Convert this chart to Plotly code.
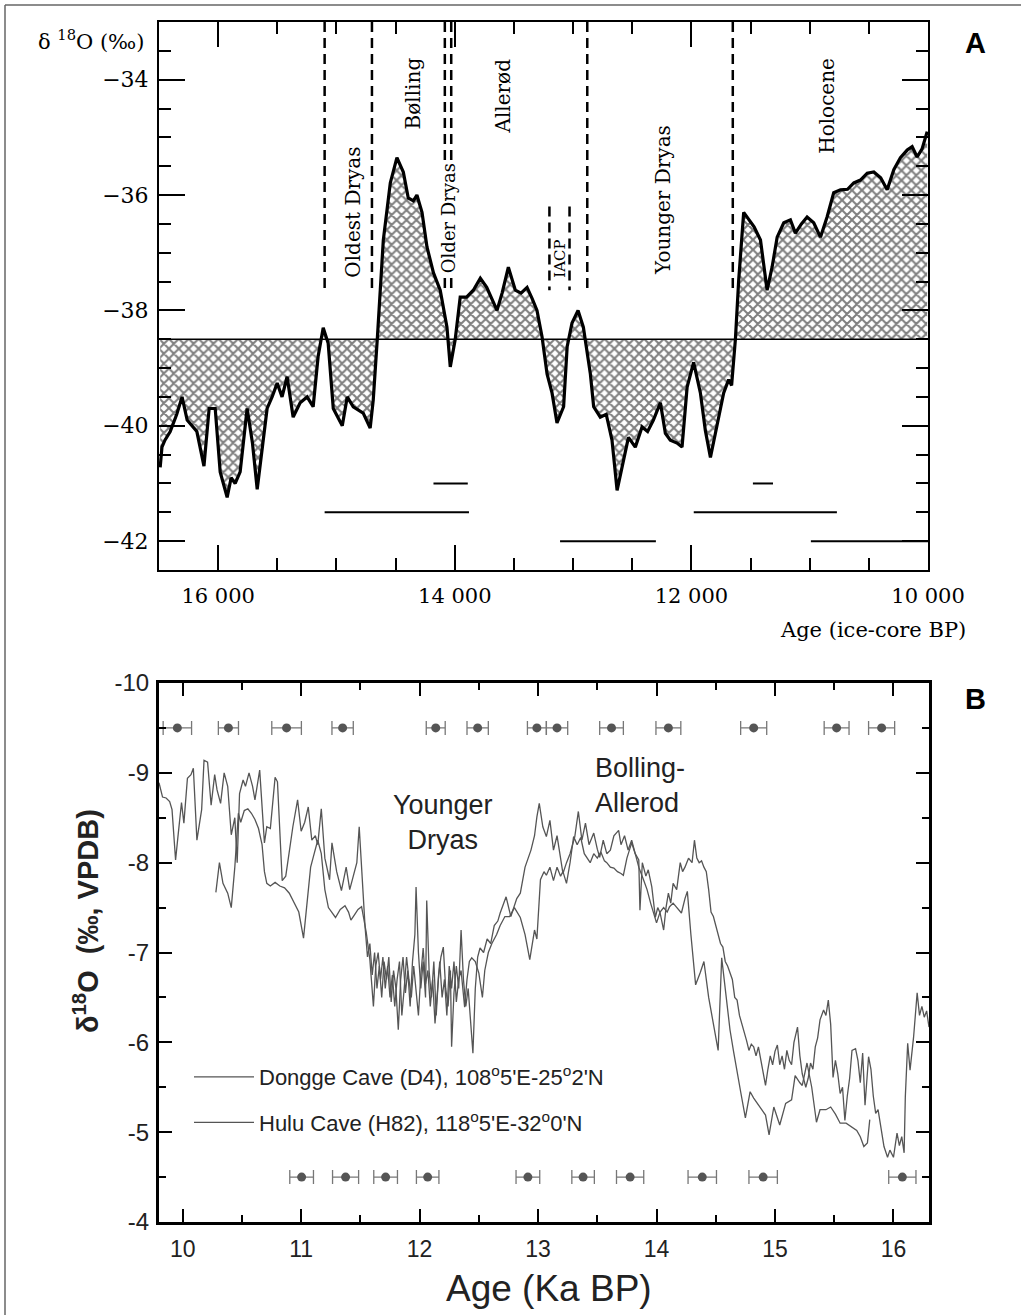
import plotly.graph_objects as go

# ---------------- Panel A : ice-core delta18O ----------------
ICE_CORE = [
    (16490, -40.72), (16475, -40.37), (16450, -40.25), (16405, -40.10), (16350, -39.80),
    (16305, -39.50), (16262, -39.90), (16220, -40.00), (16180, -40.10), (16120, -40.70),
    (16076, -39.70), (16025, -39.70), (15983, -40.80), (15924, -41.24), (15890, -40.90),
    (15856, -41.00), (15814, -40.80), (15755, -39.70), (15710, -40.30), (15670, -41.10),
    (15620, -40.30), (15586, -39.70), (15544, -39.50), (15501, -39.26), (15460, -39.50),
    (15417, -39.15), (15366, -39.85), (15307, -39.60), (15248, -39.50), (15197, -39.67),
    (15155, -38.80), (15112, -38.30), (15070, -38.57), (15027, -39.70), (14951, -40.00),
    (14909, -39.50), (14858, -39.67), (14774, -39.78), (14715, -40.04), (14689, -39.55),
    (14655, -38.50), (14630, -37.60), (14604, -36.78), (14545, -35.79), (14489, -35.35),
    (14435, -35.60), (14393, -36.05), (14350, -36.10), (14320, -36.00), (14277, -36.30),
    (14235, -36.90), (14180, -37.35), (14123, -37.65), (14066, -38.29), (14038, -38.98),
    (13996, -38.50), (13954, -37.77), (13900, -37.77), (13843, -37.65), (13784, -37.44),
    (13730, -37.60), (13643, -38.00), (13600, -37.70), (13547, -37.25), (13488, -37.65),
    (13440, -37.70), (13389, -37.60), (13345, -37.80), (13305, -38.00), (13262, -38.46),
    (13220, -39.10), (13178, -39.43), (13136, -39.95), (13080, -39.67), (13050, -38.63),
    (13009, -38.22), (12958, -38.00), (12913, -38.29), (12854, -39.10), (12826, -39.67),
    (12770, -39.85), (12720, -39.80), (12671, -40.25), (12628, -41.12), (12586, -40.70),
    (12532, -40.20), (12474, -40.37), (12417, -40.02), (12370, -40.10), (12321, -39.90),
    (12262, -39.60), (12220, -40.13), (12178, -40.25), (12121, -40.30), (12079, -40.37),
    (12036, -39.33), (11981, -38.90), (11924, -39.43), (11882, -40.08), (11839, -40.55),
    (11797, -40.13), (11755, -39.73), (11727, -39.43), (11685, -39.20), (11660, -39.30),
    (11628, -38.50), (11600, -37.47), (11558, -36.30), (11515, -36.43), (11470, -36.55),
    (11416, -36.78), (11360, -37.65), (11318, -37.25), (11275, -36.73), (11219, -36.48),
    (11163, -36.43), (11121, -36.66), (11070, -36.50), (11022, -36.38), (10966, -36.48),
    (10909, -36.73), (10853, -36.38), (10797, -35.96), (10740, -35.91), (10680, -35.90),
    (10627, -35.79), (10571, -35.74), (10514, -35.62), (10458, -35.60), (10400, -35.70),
    (10345, -35.91), (10289, -35.56), (10233, -35.35), (10176, -35.22), (10134, -35.16),
    (10092, -35.34), (10050, -35.20), (10007, -34.90),
]
ICE_AGE = [p[0] for p in ICE_CORE]
ICE_D18O = [p[1] for p in ICE_CORE]
ICE_MEAN = -38.5

PERIOD_BOUNDARIES = [15100, 14700, 14084, 14030, 12880, 11650]
BOUNDARY_SPAN = (-33.0, -37.7)
IACP_BOUNDARIES = [13200, 13030]
IACP_SPAN = (-36.2, -37.65)

AGE_ERR_START = [14180, 15100, 11480, 11980, 13110, 10990]
AGE_ERR_END = [13890, 13880, 11310, 10770, 12300, 10000]
AGE_ERR_LEVEL = [-41.0, -41.5, -41.0, -41.5, -42.0, -42.0]

# ---------------- Panel B : speleothem delta18O ----------------
DONGGE = [
    (9.80, -8.89), (9.83, -8.73), (9.86, -8.72), (9.89, -8.68), (9.91, -8.59), (9.94, -8.03),
    (9.96, -8.29), (9.99, -8.67), (10.01, -8.44), (10.04, -8.94), (10.07, -8.98), (10.09, -9.05),
    (10.12, -8.25), (10.14, -8.45), (10.16, -8.59), (10.18, -9.14), (10.21, -9.12), (10.24, -8.64),
    (10.27, -8.98), (10.29, -8.81), (10.32, -8.66), (10.35, -9.00), (10.38, -8.85), (10.41, -8.31),
    (10.44, -8.50), (10.46, -8.00), (10.48, -8.77), (10.51, -8.92), (10.53, -8.85), (10.56, -9.00),
    (10.59, -8.85), (10.61, -8.70), (10.65, -9.03), (10.69, -8.22), (10.71, -8.40), (10.74, -8.38),
    (10.78, -8.95), (10.80, -8.90), (10.84, -7.80), (10.87, -7.85), (10.90, -8.15), (10.93, -8.40),
    (10.97, -8.70), (11.00, -8.35), (11.03, -8.45), (11.06, -8.62), (11.09, -8.25), (11.12, -8.30),
    (11.14, -8.20), (11.17, -8.60), (11.20, -8.05), (11.24, -7.81), (11.26, -8.22), (11.30, -7.90),
    (11.34, -7.69), (11.38, -7.95), (11.41, -7.70), (11.44, -7.85), (11.47, -8.00), (11.49, -8.40),
    (11.52, -7.66), (11.54, -7.28), (11.56, -6.95), (11.58, -7.10), (11.60, -6.75), (11.62, -7.00),
    (11.64, -6.60), (11.66, -6.85), (11.68, -6.50), (11.70, -6.90), (11.72, -6.70), (11.74, -6.95),
    (11.76, -6.45), (11.78, -6.80), (11.80, -6.60), (11.82, -6.14), (11.84, -6.70), (11.86, -6.95),
    (11.88, -6.55), (11.90, -6.80), (11.92, -6.40), (11.94, -6.90), (11.96, -7.20), (11.97, -7.73),
    (11.99, -7.00), (12.01, -6.60), (12.03, -6.90), (12.05, -6.50), (12.06, -7.58), (12.08, -6.80),
    (12.10, -6.50), (12.12, -6.90), (12.14, -6.30), (12.16, -6.75), (12.18, -6.95), (12.20, -7.06),
    (12.22, -6.60), (12.24, -6.40), (12.26, -6.80), (12.27, -5.95), (12.29, -6.55), (12.31, -6.85),
    (12.33, -6.60), (12.35, -7.25), (12.37, -6.70), (12.39, -6.40), (12.41, -6.60), (12.43, -6.20),
    (12.45, -5.88), (12.47, -6.60), (12.49, -6.95), (12.51, -7.05), (12.54, -7.00), (12.57, -7.15),
    (12.60, -7.10), (12.63, -7.30), (12.66, -7.35), (12.68, -7.44), (12.73, -7.62), (12.77, -7.40),
    (12.82, -7.60), (12.85, -7.66), (12.89, -7.95), (12.94, -8.14), (12.97, -8.30), (12.99, -8.51),
    (13.01, -8.66), (13.04, -8.40), (13.07, -8.29), (13.10, -8.47), (13.13, -8.14), (13.16, -8.30),
    (13.19, -8.05), (13.21, -7.88), (13.24, -8.00), (13.27, -8.10), (13.31, -8.29), (13.34, -8.57),
    (13.37, -8.25), (13.40, -8.44), (13.43, -8.20), (13.47, -8.33), (13.50, -8.15), (13.52, -8.06),
    (13.55, -8.25), (13.58, -8.10), (13.61, -8.14), (13.64, -8.30), (13.68, -8.36), (13.70, -8.20),
    (13.73, -8.30), (13.76, -8.14), (13.79, -8.25), (13.82, -8.10), (13.85, -8.03), (13.86, -7.47),
    (13.88, -8.00), (13.91, -7.85), (13.93, -7.92), (13.96, -7.73), (13.99, -7.39), (14.01, -7.50),
    (14.03, -7.44), (14.06, -7.25), (14.08, -7.50), (14.10, -7.66), (14.12, -7.55), (14.14, -7.77),
    (14.17, -7.70), (14.20, -8.00), (14.22, -7.90), (14.24, -7.95), (14.27, -8.05), (14.30, -8.00),
    (14.32, -8.25), (14.34, -8.05), (14.36, -8.00), (14.38, -8.02), (14.40, -7.95), (14.42, -7.90),
    (14.44, -7.70), (14.46, -7.45), (14.48, -7.40), (14.50, -7.30), (14.52, -7.20), (14.54, -7.10),
    (14.56, -7.06), (14.58, -6.90), (14.60, -6.85), (14.62, -6.77), (14.64, -6.70), (14.66, -6.50),
    (14.68, -6.47), (14.70, -6.30), (14.72, -6.21), (14.74, -6.10), (14.76, -6.02), (14.78, -5.91),
    (14.80, -5.98), (14.82, -5.95), (14.84, -5.85), (14.86, -5.95), (14.88, -5.80), (14.90, -5.66),
    (14.92, -5.52), (14.94, -5.70), (14.96, -5.85), (14.98, -5.75), (15.00, -5.90), (15.02, -5.97),
    (15.04, -5.75), (15.06, -5.85), (15.08, -5.70), (15.10, -5.91), (15.12, -5.80), (15.14, -5.75),
    (15.16, -6.00), (15.19, -6.17), (15.21, -5.85), (15.23, -5.65), (15.26, -5.50), (15.28, -5.60),
    (15.30, -5.77), (15.32, -5.70), (15.34, -5.95), (15.36, -6.05), (15.38, -6.25), (15.41, -6.36),
    (15.43, -6.30), (15.45, -6.47), (15.47, -6.20), (15.49, -5.61), (15.51, -5.80), (15.53, -5.65),
    (15.55, -5.43), (15.57, -5.50), (15.59, -5.13), (15.61, -5.40), (15.63, -5.60), (15.65, -5.91),
    (15.68, -5.93), (15.70, -5.80), (15.72, -5.55), (15.74, -5.88), (15.76, -5.30), (15.79, -5.84),
    (15.81, -5.70), (15.83, -5.40), (15.85, -5.21), (15.87, -5.25), (15.89, -5.10), (15.92, -4.84),
    (15.95, -4.72), (15.97, -4.80), (16.00, -4.72), (16.03, -4.99), (16.05, -4.85), (16.07, -4.95),
    (16.09, -4.77), (16.10, -5.39), (16.12, -5.99), (16.14, -5.69), (16.17, -6.06), (16.20, -6.55),
    (16.22, -6.30), (16.24, -6.40), (16.26, -6.28), (16.28, -6.35), (16.30, -6.17),
]
HULU = [
    (10.28, -7.67), (10.31, -8.00), (10.34, -7.77), (10.38, -7.66), (10.41, -7.50), (10.44, -7.95),
    (10.47, -8.55), (10.49, -8.45), (10.52, -8.58), (10.55, -8.60), (10.58, -8.55), (10.61, -8.48),
    (10.64, -8.38), (10.67, -8.20), (10.69, -7.90), (10.71, -7.77), (10.74, -7.74), (10.78, -7.78),
    (10.82, -7.74), (10.86, -7.72), (10.90, -7.66), (10.94, -7.55), (10.98, -7.45), (11.02, -7.16),
    (11.05, -7.60), (11.08, -7.95), (11.11, -8.10), (11.14, -8.25), (11.17, -8.10), (11.20, -7.70),
    (11.23, -7.50), (11.26, -7.45), (11.29, -7.39), (11.33, -7.48), (11.37, -7.52), (11.40, -7.45),
    (11.42, -7.36), (11.45, -7.42), (11.48, -7.48), (11.51, -7.51), (11.55, -7.22), (11.58, -6.92),
    (11.61, -6.40), (11.63, -6.85), (11.65, -7.00), (11.67, -6.70), (11.69, -6.95), (11.71, -6.60),
    (11.73, -6.85), (11.75, -6.50), (11.77, -6.75), (11.79, -6.40), (11.81, -6.70), (11.83, -6.90),
    (11.85, -6.30), (11.87, -6.60), (11.89, -6.95), (11.91, -6.70), (11.93, -6.50), (11.95, -6.85),
    (11.97, -6.60), (11.99, -6.30), (12.01, -6.75), (12.03, -7.05), (12.05, -6.65), (12.07, -6.80),
    (12.09, -6.40), (12.11, -6.70), (12.13, -6.21), (12.15, -6.60), (12.17, -6.90), (12.19, -6.50),
    (12.21, -6.70), (12.23, -6.30), (12.25, -6.85), (12.27, -6.60), (12.29, -6.90), (12.31, -6.45),
    (12.33, -6.70), (12.35, -6.80), (12.38, -6.39), (12.40, -6.70), (12.42, -6.90), (12.44, -6.94),
    (12.47, -6.90), (12.50, -6.77), (12.53, -6.50), (12.55, -6.80), (12.58, -7.00), (12.61, -7.10),
    (12.65, -7.20), (12.68, -7.30), (12.72, -7.40), (12.76, -7.40), (12.80, -7.50), (12.85, -7.39),
    (12.89, -7.20), (12.93, -6.92), (12.97, -7.25), (12.99, -7.15), (13.02, -7.81), (13.05, -7.90),
    (13.07, -7.86), (13.10, -7.95), (13.13, -7.80), (13.16, -7.95), (13.19, -7.85), (13.21, -7.90),
    (13.24, -7.77), (13.27, -8.00), (13.30, -8.29), (13.33, -8.20), (13.36, -8.28), (13.39, -8.10),
    (13.41, -8.06), (13.44, -8.00), (13.47, -8.10), (13.50, -8.05), (13.53, -8.12), (13.56, -8.02),
    (13.58, -8.00), (13.61, -7.95), (13.64, -7.94), (13.67, -7.90), (13.70, -7.88), (13.72, -7.86),
    (13.75, -8.05), (13.77, -8.15), (13.79, -8.22), (13.82, -8.10), (13.85, -7.95), (13.89, -7.81),
    (13.92, -7.70), (13.95, -7.55), (13.98, -7.40), (14.00, -7.33), (14.03, -7.45), (14.06, -7.50),
    (14.09, -7.45), (14.11, -7.51), (14.14, -7.55), (14.17, -7.50), (14.21, -7.44), (14.24, -7.60),
    (14.26, -7.68), (14.29, -7.20), (14.33, -6.64), (14.37, -6.78), (14.40, -6.90), (14.44, -6.50),
    (14.48, -6.20), (14.52, -5.91), (14.55, -6.94), (14.58, -6.60), (14.60, -6.35), (14.62, -6.14),
    (14.65, -5.90), (14.68, -5.66), (14.71, -5.45), (14.75, -5.16), (14.79, -5.45), (14.82, -5.38),
    (14.86, -5.30), (14.92, -5.19), (14.95, -4.97), (14.99, -5.28), (15.04, -5.08), (15.09, -5.32),
    (15.14, -5.36), (15.17, -5.63), (15.21, -5.55), (15.23, -5.52), (15.27, -5.77), (15.31, -5.50),
    (15.35, -5.11), (15.38, -5.25), (15.43, -5.25), (15.47, -5.28), (15.51, -5.20), (15.55, -5.10),
    (15.60, -5.10), (15.65, -5.06), (15.69, -5.02), (15.72, -4.95), (15.75, -4.84), (15.78, -4.88),
    (15.80, -5.14),
]
DONGGE_AGE = [p[0] for p in DONGGE]
DONGGE_D18O = [p[1] for p in DONGGE]
HULU_AGE = [p[0] for p in HULU]
HULU_D18O = [p[1] for p in HULU]

# U/Th dates (ka) with 2-sigma errors
DATES_TOP = [9.955, 10.386, 10.877, 11.35, 12.136, 12.49, 12.99, 13.16, 13.62, 14.10, 14.82, 15.52, 15.90]
DATES_TOP_ERR = [0.12, 0.085, 0.125, 0.09, 0.08, 0.09, 0.08, 0.09, 0.10, 0.105, 0.11, 0.105, 0.11]
DATES_BOTTOM = [11.004, 11.375, 11.713, 12.068, 12.914, 13.38, 13.777, 14.386, 14.90, 16.075]
DATES_BOTTOM_ERR = [0.10, 0.11, 0.10, 0.095, 0.10, 0.095, 0.115, 0.12, 0.12, 0.115]
DATE_ROW_TOP = -9.5
DATE_ROW_BOTTOM = -4.5

# ---------------- figure ----------------
W, H = 1021, 1315
def px_x(p):
    return p / W
def px_y(p):
    return 1 - p / H

SERIF = "DejaVu Serif"
SANS = "Liberation Sans"
GREY = "#555555"

fig = go.Figure()

# Panel A: mean baseline then the curve filled to it
fig.add_trace(go.Scatter(x=[ICE_AGE[0], ICE_AGE[-1]], y=[ICE_MEAN, ICE_MEAN], mode="lines",
                         line=dict(color="black", width=1.5), xaxis="x", yaxis="y",
                         showlegend=False, hoverinfo="skip"))
fig.add_trace(go.Scatter(x=ICE_AGE, y=ICE_D18O, mode="lines", fill="tonexty",
                         fillpattern=dict(shape="x", size=7, solidity=0.5, fgcolor="black", bgcolor="white"),
                         fillcolor="white",
                         line=dict(color="black", width=3.2), xaxis="x", yaxis="y",
                         showlegend=False, hoverinfo="skip"))

# dashed period boundaries
bx, by = [], []
for a in PERIOD_BOUNDARIES:
    bx += [a, a, None]
    by += [BOUNDARY_SPAN[0], BOUNDARY_SPAN[1], None]
for a in IACP_BOUNDARIES:
    bx += [a, a, None]
    by += [IACP_SPAN[0], IACP_SPAN[1], None]
fig.add_trace(go.Scatter(x=bx, y=by, mode="lines", line=dict(color="black", width=2.5, dash="10px,6px"),
                         xaxis="x", yaxis="y", showlegend=False, hoverinfo="skip"))

# age uncertainty bars
ex, ey = [], []
for s, e, lv in zip(AGE_ERR_START, AGE_ERR_END, AGE_ERR_LEVEL):
    ex += [s, e, None]
    ey += [lv, lv, None]
fig.add_trace(go.Scatter(x=ex, y=ey, mode="lines", line=dict(color="black", width=2),
                         xaxis="x", yaxis="y", showlegend=False, hoverinfo="skip"))

# Panel B curves
fig.add_trace(go.Scatter(x=DONGGE_AGE, y=DONGGE_D18O, mode="lines", name="Dongge Cave (D4), 108<sup>o</sup>5'E-25<sup>o</sup>2'N",
                         line=dict(color=GREY, width=1.3), xaxis="x2", yaxis="y2", legendgroup="d"))
fig.add_trace(go.Scatter(x=HULU_AGE, y=HULU_D18O, mode="lines", name="Hulu Cave (H82), 118<sup>o</sup>5'E-32<sup>o</sup>0'N",
                         line=dict(color=GREY, width=1.3), xaxis="x2", yaxis="y2", legendgroup="h"))

for dates, errs, row in ((DATES_TOP, DATES_TOP_ERR, DATE_ROW_TOP), (DATES_BOTTOM, DATES_BOTTOM_ERR, DATE_ROW_BOTTOM)):
    fig.add_trace(go.Scatter(x=dates, y=[row] * len(dates), mode="markers",
                             marker=dict(color=GREY, size=9),
                             error_x=dict(type="data", array=errs, color="#777777", thickness=1.3, width=7),
                             xaxis="x2", yaxis="y2", showlegend=False, hoverinfo="skip"))

axA_common = dict(showline=True, linecolor="black", linewidth=2, mirror="ticks", showgrid=False,
                  zeroline=False, ticks="inside", tickcolor="black", tickwidth=2, automargin=False)
axB_common = dict(showline=True, linecolor="black", linewidth=3, mirror="ticks", showgrid=False,
                  zeroline=False, ticks="inside", tickcolor="black", tickwidth=1.5, automargin=False)

fig.update_layout(
    width=W, height=H, autosize=False,
    margin=dict(l=0, r=0, t=0, b=0, pad=0, autoexpand=False),
    paper_bgcolor="white", plot_bgcolor="white",
    xaxis=dict(domain=[px_x(159), px_x(928)], range=[16500, 10000], anchor="y",
               tickvals=[16000, 14000, 12000, 10000], ticktext=["16 000", "14 000", "12 000", "10 000"],
               ticklen=25, minor=dict(dtick=500, tick0=10000, ticks="inside", ticklen=12, tickcolor="black", tickwidth=2),
               tickfont=dict(family=SERIF, size=21, color="black"), ticklabelstandoff=6, **axA_common),
    yaxis=dict(domain=[px_y(570), px_y(22)], range=[-42.5, -33], anchor="x",
               tickvals=[-34, -36, -38, -40, -42], ticktext=["\u221234", "\u221236", "\u221238", "\u221240", "\u221242"],
               ticklen=26, minor=dict(dtick=0.5, tick0=-34, ticks="inside", ticklen=12, tickcolor="black", tickwidth=2),
               tickfont=dict(family=SERIF, size=22, color="black"), ticklabelstandoff=4, **axA_common),
    xaxis2=dict(domain=[px_x(159), px_x(929)], range=[9.8, 16.3], anchor="y2",
                tickvals=[10, 11, 12, 13, 14, 15, 16], ticktext=["10", "11", "12", "13", "14", "15", "16"],
                ticklen=13, minor=dict(dtick=0.5, tick0=10, ticks="inside", ticklen=7, tickcolor="black", tickwidth=1.5),
                tickfont=dict(family=SANS, size=23, color="#222"), ticklabelstandoff=4, **axB_common),
    yaxis2=dict(domain=[px_y(1222), px_y(683)], range=[-4, -10], anchor="x2",
                tickvals=[-10, -9, -8, -7, -6, -5, -4], ticktext=["-10", "-9", "-8", "-7", "-6", "-5", "-4"],
                ticklen=13, minor=dict(dtick=0.5, tick0=-10, ticks="inside", ticklen=7, tickcolor="black", tickwidth=1.5),
                tickfont=dict(family=SANS, size=24, color="#222"), ticklabelstandoff=2, **axB_common),
    legend=dict(x=px_x(189), y=px_y(1056), xanchor="left", yanchor="top", bgcolor="rgba(0,0,0,0)",
                font=dict(family=SANS, size=22, color="#222"), traceorder="grouped", tracegroupgap=14,
                itemwidth=60),
    showlegend=True,
)

ann = []
def serif_label(text, x, y, size=20, bg=None):
    d = dict(text=text, x=x, y=y, xref="x", yref="y", textangle=-90, showarrow=False,
             xanchor="center", yanchor="middle", font=dict(family=SERIF, size=size, color="black"))
    if bg:
        d["bgcolor"] = bg
    ann.append(d)

serif_label("Oldest Dryas", 14861, -36.29)
serif_label("Bølling", 14354, -34.24)
serif_label("Older Dryas", 14057, -36.4, size=18, bg="white")
serif_label("Allerød", 13595, -34.28)
serif_label("IACP", 13114, -37.11, size=15)
serif_label("Younger Dryas", 12245, -36.08)
serif_label("Holocene", 10861, -34.45)

def paper_text(text, x, y, size, family, color="black", angle=0, xanchor="center"):
    ann.append(dict(text=text, x=px_x(x), y=px_y(y), xref="paper", yref="paper", showarrow=False,
                    xanchor=xanchor, yanchor="middle", textangle=angle,
                    font=dict(family=family, size=size, color=color)))

paper_text("δ <sup>18</sup>O (‰)", 91, 40, 21, SERIF)
paper_text("<b>A</b>", 975, 43, 29, SANS)
paper_text("Age (ice-core BP)", 968, 630, 21, SERIF, xanchor="right")
paper_text("<b>B</b>", 975, 699, 29, SANS)
paper_text("Age (Ka BP)", 549, 1288, 37, SANS, color="#222")
paper_text("<b>δ<sup>18</sup>O  (‰, VPDB)</b>", 86, 921, 29, SANS, color="#222", angle=-90)

ann += [
    dict(text="Younger<br>Dryas", x=12.195, y=-8.45, xref="x2", yref="y2", showarrow=False,
         xanchor="center", yanchor="middle", font=dict(family=SANS, size=27, color="#222")),
    dict(text="Bolling-<br>Allerod", x=13.46, y=-8.86, xref="x2", yref="y2", xanchor="left", yanchor="middle",
         align="left", showarrow=False, font=dict(family=SANS, size=27, color="#222")),
]
fig.update_layout(annotations=ann)

shapes = [
    dict(type="line", xref="paper", yref="paper", x0=px_x(5), x1=px_x(5), y0=px_y(5), y1=0,
         line=dict(color="#666", width=1.5)),
    dict(type="line", xref="paper", yref="paper", x0=px_x(5), x1=1, y0=px_y(5), y1=px_y(5),
         line=dict(color="#666", width=1.5)),
]
fig.update_layout(shapes=shapes)

fig.write_html(
    "out.html",
    config={"displayModeBar": False, "responsive": False},
    post_script="document.documentElement.style.overflow='hidden';"
                "document.body.style.margin='0';document.body.style.overflow='hidden';",
)
